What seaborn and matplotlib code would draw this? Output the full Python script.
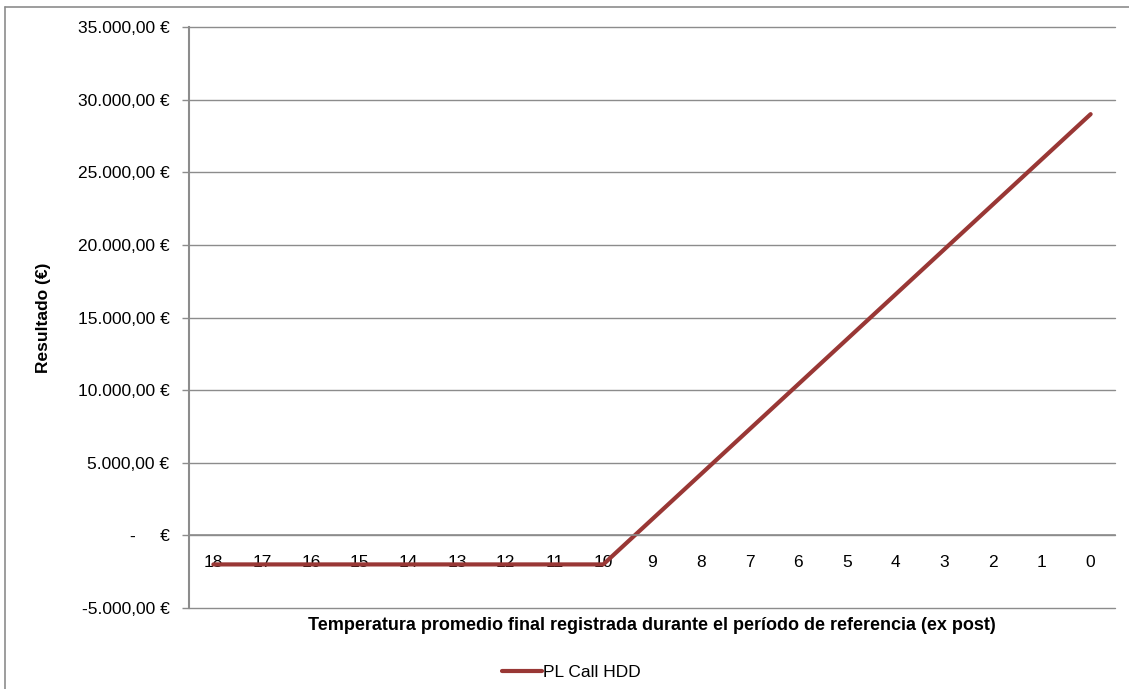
import matplotlib
matplotlib.use("Agg")
import matplotlib.pyplot as plt
import seaborn as sns
import pandas as pd
from matplotlib.lines import Line2D

# Data
temperatures = ["18", "17", "16", "15", "14", "13", "12", "11", "10",
                "9", "8", "7", "6", "5", "4", "3", "2", "1", "0"]
pl_call_hdd = [-2000, -2000, -2000, -2000, -2000, -2000, -2000, -2000, -2000,
               1100, 4200, 7300, 10400, 13500, 16600, 19700, 22800, 25900, 29000]
y_ticks = [-5000, 0, 5000, 10000, 15000, 20000, 25000, 30000, 35000]
series_name = "PL Call HDD"
x_label = "Temperatura promedio final registrada durante el período de referencia (ex post)"
y_label = "Resultado (€)"

df = pd.DataFrame({"temp": temperatures, "value": pl_call_hdd, "serie": series_name})

sns.set_theme(style="white")
plt.rcParams["font.family"] = ["Liberation Sans", "DejaVu Sans"]
plt.rcParams["text.color"] = "#000000"
plt.rcParams["axes.labelcolor"] = "#000000"

fig = plt.figure(figsize=(11.29, 6.89), dpi=100)
W, H = 1129, 689
ax = fig.add_axes([189 / W, 1 - 608 / H, (1115 - 189) / W, (608 - 27) / H])

line_color = "#993735"
grid_color = "#8c8c8c"

sns.lineplot(data=df, x="temp", y="value", sort=False, ax=ax,
             color=line_color, linewidth=3.0, legend=False)

ax.set_xlim(-0.5, len(temperatures) - 0.5)
ax.set_ylim(-5000, 35000)
ax.set_yticks(y_ticks)


def fmt(v):
    if v == 0:
        return "-     €"
    s = f"{v:,.2f}".replace(",", "X").replace(".", ",").replace("X", ".")
    return s + " €"


ax.set_yticklabels([fmt(v) for v in y_ticks], fontsize=12.5, color="#000000")
ax.yaxis.grid(True, color=grid_color, linewidth=1.0)
for gl in ax.get_ygridlines():
    gl.set_clip_on(False)
ax.xaxis.grid(False)
ax.set_axisbelow(True)

for side in ["top", "right"]:
    ax.spines[side].set_visible(False)
ax.spines["left"].set_color(grid_color)
ax.spines["left"].set_linewidth(1.5)
ax.spines["bottom"].set_position(("data", 0))
ax.spines["bottom"].set_color(grid_color)
ax.spines["bottom"].set_linewidth(1.2)

ax.tick_params(axis="y", which="both", left=True, length=5, width=1.0,
               color=grid_color, pad=9)
ax.set_xticks(range(len(temperatures)))
ax.set_xticklabels(temperatures, fontsize=12.5, color="#000000")
ax.tick_params(axis="x", bottom=False, length=0, pad=14)

ax.set_xlabel("")
ax.set_ylabel(y_label, fontsize=12.5, fontweight="bold", labelpad=19, color="#000000")

fig.text((189 + 1115) / 2 / W, 1 - 625 / H, x_label, ha="center", va="center",
         fontsize=13, fontweight="bold", color="#000000")

handle = Line2D([], [], color=line_color, linewidth=3.0)
leg = fig.legend([handle], [series_name], loc="center", bbox_to_anchor=(571 / W, 1 - 672 / H),
                 frameon=False, fontsize=12.5, handlelength=2.3, handletextpad=0.05,
                 borderpad=0)
for t in leg.get_texts():
    t.set_color("#000000")

# outer chart border (top and left visible)
fig.add_artist(Line2D([5 / W, 5 / W], [0, 1 - 7 / H], transform=fig.transFigure,
                      color="#8c8c8c", linewidth=1.2))
fig.add_artist(Line2D([5 / W, 1], [1 - 7 / H, 1 - 7 / H], transform=fig.transFigure,
                      color="#8c8c8c", linewidth=1.2))

fig.savefig("out.png", dpi=100, facecolor="white")
